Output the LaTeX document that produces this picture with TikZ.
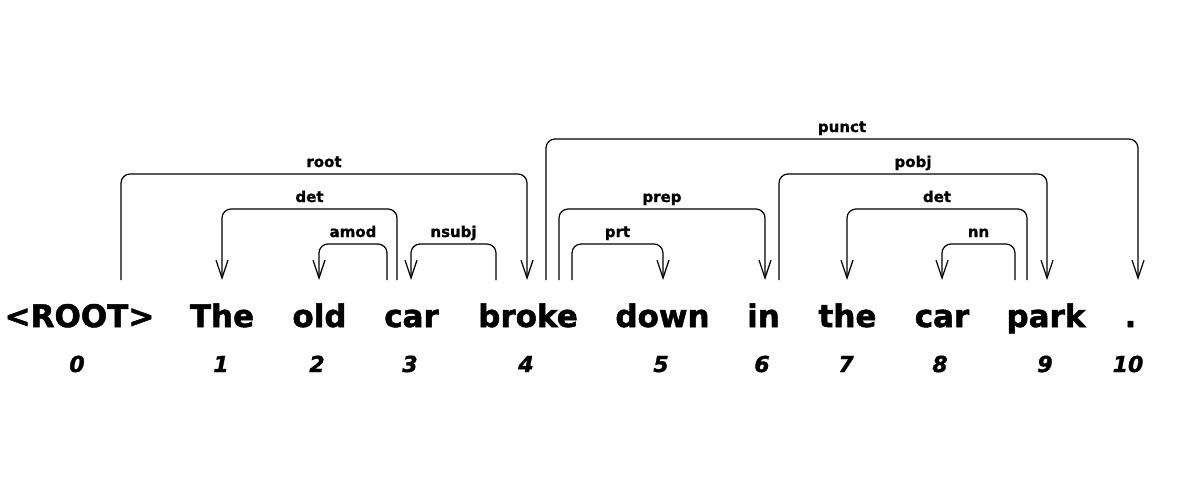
\documentclass[tikz,border=0pt]{standalone}
\usepackage{fontspec}
\setmainfont{DejaVu Sans}
\newfontfamily\heavyfont[BoldFeatures={FakeBold=1.6},BoldItalicFeatures={FakeBold=1.6}]{DejaVu Sans}
\newfontfamily\lblfont[BoldFeatures={FakeBold=1.2}]{DejaVu Sans}
\usetikzlibrary{arrows.meta}
\begin{document}
\begin{tikzpicture}[x=1pt,y=-1pt,
  word/.style={font=\heavyfont\fontsize{31}{32}\selectfont\bfseries, anchor=base, inner sep=0pt},
  idx/.style={font=\heavyfont\fontsize{22}{22}\selectfont\bfseries\itshape, anchor=base, inner sep=0pt},
  lbl/.style={font=\lblfont\fontsize{15}{15}\selectfont\bfseries, anchor=base, inner sep=0pt},
  dep/.style={line width=1.2pt, rounded corners=9pt,
    -{Straight Barb[length=18pt,width=12pt,line width=1.2pt]}}]
\fill[white] (0,0) rectangle (1196,493);
\useasboundingbox (0,0) rectangle (1196,493);
% words
\node[word] (w0) at (79.5,327) {<ROOT>};
\node[word] (w1) at (222,327) {The};
\node[word] (w2) at (319.5,327) {old};
\node[word] (w3) at (411.5,327) {car};
\node[word] (w4) at (528,327) {broke};
\node[word] (w5) at (662.5,327) {down};
\node[word] (w6) at (763.5,327) {in};
\node[word] (w7) at (847.5,327) {the};
\node[word] (w8) at (942,327) {car};
\node[word] (w9) at (1046,327) {park};
\node[word] (w10) at (1130.5,327) {.};
% indices
\node[idx] (n0) at (77,372) {0};
\node[idx] (n1) at (221,372) {1};
\node[idx] (n2) at (317,372) {2};
\node[idx] (n3) at (410,372) {3};
\node[idx] (n4) at (526,372) {4};
\node[idx] (n5) at (661,372) {5};
\node[idx] (n6) at (762,372) {6};
\node[idx] (n7) at (846,372) {7};
\node[idx] (n8) at (940,372) {8};
\node[idx] (n9) at (1045,372) {9};
\node[idx] (n10) at (1128,372) {10};
% arc end points
\coordinate (rootS) at (121,280);  \coordinate (rootE) at (527,280);
\coordinate (det1S) at (397,280);  \coordinate (det1E) at (222,280);
\coordinate (amodS) at (387,280);  \coordinate (amodE) at (319,280);
\coordinate (nsubjS) at (496,280); \coordinate (nsubjE) at (411,280);
\coordinate (punctS) at (546,280); \coordinate (punctE) at (1138,280);
\coordinate (prepS) at (559,280);  \coordinate (prepE) at (765,280);
\coordinate (prtS) at (572,280);   \coordinate (prtE) at (663,280);
\coordinate (pobjS) at (779,280);  \coordinate (pobjE) at (1047,280);
\coordinate (det2S) at (1027,280); \coordinate (det2E) at (847,280);
\coordinate (nnS) at (1015,280);   \coordinate (nnE) at (942,280);
% arcs
\draw[dep] (rootS) -- (rootS |- 0,174) -- (rootE |- 0,174) -- (rootE);
\draw[dep] (det1S) -- (det1S |- 0,209) -- (det1E |- 0,209) -- (det1E);
\draw[dep] (amodS) -- (amodS |- 0,244) -- (amodE |- 0,244) -- (amodE);
\draw[dep] (nsubjS) -- (nsubjS |- 0,244) -- (nsubjE |- 0,244) -- (nsubjE);
\draw[dep] (punctS) -- (punctS |- 0,139) -- (punctE |- 0,139) -- (punctE);
\draw[dep] (prepS) -- (prepS |- 0,209) -- (prepE |- 0,209) -- (prepE);
\draw[dep] (prtS) -- (prtS |- 0,244) -- (prtE |- 0,244) -- (prtE);
\draw[dep] (pobjS) -- (pobjS |- 0,174) -- (pobjE |- 0,174) -- (pobjE);
\draw[dep] (det2S) -- (det2S |- 0,209) -- (det2E |- 0,209) -- (det2E);
\draw[dep] (nnS) -- (nnS |- 0,244) -- (nnE |- 0,244) -- (nnE);
% labels
\node[lbl] (lroot) at (324,167) {root};
\node[lbl] (ldet1) at (309.5,202) {det};
\node[lbl] (lamod) at (353,237) {amod};
\node[lbl] (lnsubj) at (453.5,237) {nsubj};
\node[lbl] (lpunct) at (842,132) {punct};
\node[lbl] (lprep) at (662,202) {prep};
\node[lbl] (lprt) at (617.5,237) {prt};
\node[lbl] (lpobj) at (913,167) {pobj};
\node[lbl] (ldet2) at (937,202) {det};
\node[lbl] (lnn) at (978.5,237) {nn};
\end{tikzpicture}
\end{document}
